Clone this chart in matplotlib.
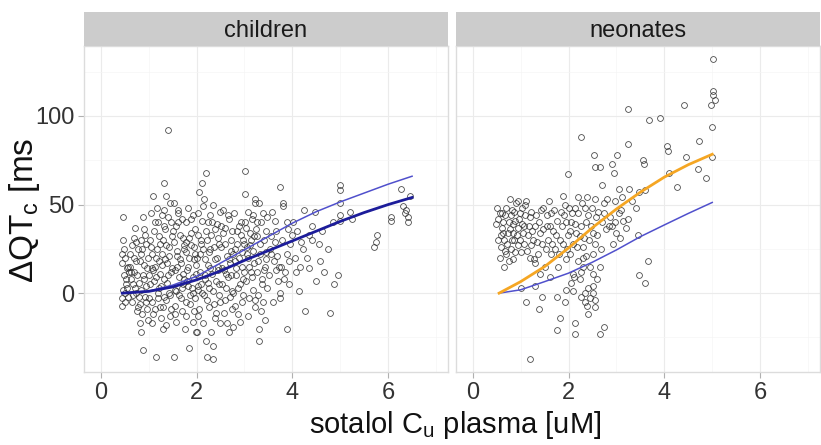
import matplotlib
matplotlib.use("Agg")
import matplotlib.pyplot as plt
from matplotlib.ticker import MultipleLocator

# ------------------------------------------
# Fonts
# ------------------------------------------

plt.rcParams["font.family"] = ["Liberation Sans", "DejaVu Sans"]
plt.rcParams["mathtext.fontset"] = "custom"
plt.rcParams["mathtext.rm"] = "Liberation Sans"

# ------------------------------------------
# Data
# ------------------------------------------

children_pts = [
    (0.47, 43), (0.45, 22), (0.5, 20), (0.44, 17), (0.55, 14), (0.48, 10), (0.52, 5), (0.46, 2),
    (0.5, 0), (0.44, -3), (0.45, -7), (0.57, 15), (0.53, 8), (0.58, 12), (0.56, -2), (0.49, 25),
    (0.72, 37), (0.65, 27), (0.7, 20), (0.62, 15), (0.75, 10), (0.68, 5), (0.73, 0), (0.66, -5),
    (0.78, -8), (0.77, 25), (0.64, 12), (0.71, 3), (0.79, -2), (0.69, 31), (0.74, 18),
    (0.89, 43), (0.84, 30), (0.95, 28), (0.87, 25), (0.82, 18), (0.97, 14), (0.9, 8), (0.85, 2),
    (0.93, -2), (0.81, -6), (0.96, -9), (0.82, -17), (0.85, -22), (0.89, -32), (0.92, 33),
    (0.99, 20), (0.88, 10), (0.94, -5),
    (1.09, 55), (1.05, 45), (1.2, 40), (1.12, 35), (1.02, 30), (1.18, 25), (1.07, 22), (1.22, 18),
    (1.1, 13), (1.15, 9), (1.03, 5), (1.19, 0), (1.06, -5), (1.14, -9), (1.09, -12), (1.16, -36),
    (1.24, 28), (1.13, 15), (1.21, 3), (1.01, -3), (1.17, 48), (1.23, -8),
    (1.41, 92), (1.32, 62), (1.37, 55), (1.44, 51), (1.28, 44), (1.47, 40), (1.35, 36), (1.3, 30),
    (1.42, 26), (1.27, 22), (1.39, 17), (1.46, 12), (1.33, 8), (1.26, 4), (1.43, 0), (1.36, -4),
    (1.29, -8), (1.44, -13), (1.37, -18), (1.3, -20), (1.48, 32), (1.34, 19), (1.4, 10),
    (1.45, -1), (1.31, 47),
    (1.53, 51), (1.62, 47), (1.7, 42), (1.57, 38), (1.66, 33), (1.52, 29), (1.73, 25), (1.6, 21),
    (1.68, 17), (1.55, 13), (1.64, 9), (1.71, 5), (1.58, 1), (1.67, -3), (1.54, -7), (1.53, -36),
    (1.61, 45), (1.74, 27), (1.59, 15), (1.69, 3), (1.72, 11), (1.56, -12),
    (1.82, 48), (1.92, 44), (1.78, 40), (1.96, 36), (1.85, 31), (1.89, 27), (1.77, 23),
    (1.94, 19), (1.83, 15), (1.98, 11), (1.8, 7), (1.91, 3), (1.86, -1), (1.79, -5), (1.95, -10),
    (1.92, -16), (1.76, -20), (1.85, -31), (1.88, 34), (1.97, 22), (1.81, 13), (1.93, 0),
    (1.99, -22),
    (2.11, 62), (2.06, 57), (2.16, 53), (2.03, 45), (2.2, 35), (2.09, 30), (2.14, 25), (2.01, 20),
    (2.23, 16), (2.07, 12), (2.18, 8), (2.04, 4), (2.12, 0), (2.21, -4), (2.05, -9), (2.14, -17),
    (2.0, -22), (2.21, -36), (2.1, 28), (2.17, 10), (2.02, 2), (2.24, 40), (2.13, 49), (2.2, 68),
    (2.35, 50), (2.28, 44), (2.42, 39), (2.31, 33), (2.46, 28), (2.27, 23), (2.38, 19),
    (2.44, 15), (2.33, 11), (2.4, 7), (2.26, 3), (2.47, -1), (2.36, -6), (2.49, -17), (2.31, -22),
    (2.35, -30), (2.34, -37), (2.39, 36), (2.29, 25), (2.45, 13), (2.41, -11), (2.48, 46),
    (2.55, 47), (2.68, 42), (2.6, 37), (2.72, 30), (2.52, 26), (2.64, 21), (2.7, 17), (2.57, 13),
    (2.66, 9), (2.53, 5), (2.73, 1), (2.59, -4), (2.63, -17), (2.67, -22), (2.56, 34),
    (2.71, 24), (2.62, 11), (2.74, -9),
    (2.78, 45), (2.92, 40), (2.85, 35), (2.97, 30), (2.8, 25), (2.89, 20), (2.95, 15), (2.83, 10),
    (2.91, 5), (2.77, 0), (2.94, -5), (2.86, -12), (2.77, -19), (2.88, 38), (2.99, 28),
    (2.81, 18), (2.96, 8),
    (3.01, 69), (3.01, 56), (3.22, 53), (3.08, 46), (3.15, 42), (3.04, 37), (3.19, 32),
    (3.11, 27), (3.06, 22), (3.2, 17), (3.13, 12), (3.03, 7), (3.17, 2), (3.09, -3), (3.23, -8),
    (3.14, 30), (3.07, 20), (3.22, 51), (3.18, 44),
    (3.3, 51), (3.38, 45), (3.27, 40), (3.44, 35), (3.33, 28), (3.46, 23), (3.29, 18),
    (3.41, 13), (3.36, 8), (3.48, 3), (3.3, -20), (3.3, -27), (3.39, -5), (3.27, 32),
    (3.43, 15), (3.35, -10),
    (3.58, 46), (3.66, 35), (3.53, 25), (3.61, 18), (3.66, 13), (3.71, 7), (3.74, 0),
    (3.55, 22), (3.74, -3), (3.63, 29),
    (3.74, 60), (3.81, 51), (3.81, 49), (3.88, 40), (3.91, 36), (4.0, 33), (3.88, 22),
    (3.77, 15), (3.85, 12), (3.88, -20), (3.96, 28), (3.92, 5),
    (4.25, 47), (4.48, 46), (4.1, 35), (4.35, 33), (4.42, 30), (4.22, 25), (4.16, 15),
    (4.35, 14), (4.5, 7), (4.13, 1), (4.26, -10), (4.05, 20),
    (4.74, 25), (4.57, 18), (4.95, 10), (4.87, 5), (4.79, -11), (4.85, 40), (4.62, 35),
    (5.0, 61), (5.0, 58), (5.0, 51), (5.21, 46), (5.0, 44), (5.0, 41), (5.25, 42),
    (5.77, 33), (5.7, 26), (5.74, 29),
    (6.26, 59), (6.46, 55), (6.32, 49), (6.38, 47), (6.35, 45), (6.42, 43), (6.05, 43),
    (6.05, 41), (6.42, 40),
    # denser middle of the cloud
    (0.47, 30), (0.5, -5), (0.55, 3), (0.6, 22), (0.63, 8), (0.67, -1), (0.7, 12), (0.74, 29),
    (0.76, -10), (0.8, 6), (0.83, 22), (0.86, -12), (0.9, 16), (0.91, 36), (0.94, 4),
    (0.98, -15), (1.0, 10), (1.04, 26), (1.06, 14), (1.08, -17), (1.11, 7), (1.13, 40),
    (1.16, 20), (1.19, -3), (1.21, 32), (1.23, 11), (1.26, -14), (1.28, 16), (1.31, 38),
    (1.33, -2), (1.36, 27), (1.38, 6), (1.41, 43), (1.43, 21), (1.46, -9), (1.49, 14),
    (1.51, 35), (1.54, 2), (1.57, -16), (1.59, 24), (1.62, 40), (1.64, -1), (1.66, 19),
    (1.69, -10), (1.71, 31), (1.74, 8), (1.77, -13), (1.79, 29), (1.82, 4), (1.84, 20),
    (1.87, -6), (1.89, 42), (1.92, 9), (1.94, 26), (1.97, -3), (1.99, 16), (2.02, 33),
    (2.04, -13), (2.07, 22), (2.09, 5), (2.12, 41), (2.15, -1), (2.17, 19), (2.19, -27),
    (2.22, 30), (2.24, 6), (2.27, -8), (2.29, 14), (2.32, 40), (2.34, 1), (2.37, 26),
    (2.39, -14), (2.42, 20), (2.44, 31), (2.47, 5), (2.49, -5), (2.52, 38), (2.54, 14),
    (2.57, -11), (2.59, 28), (2.62, 3), (2.65, 44), (2.67, 19), (2.69, -2), (2.72, 10),
    (2.75, 35), (2.77, 22), (2.8, -7), (2.82, 14), (2.85, 28), (2.87, 3), (2.9, -16),
    (2.92, 33), (2.95, 23), (2.97, -1), (3.0, 12), (3.02, 40), (3.05, 26), (3.08, -13),
    (3.1, 15), (3.12, 34), (3.16, 9), (3.18, 24), (3.21, -4), (3.24, 36), (3.26, 12),
    (3.28, -1), (3.32, 22), (3.34, 40), (3.37, 5), (3.4, 30), (3.42, -15), (3.45, 19),
    (3.47, 43), (3.52, 10), (3.56, 32), (3.6, -5), (3.64, 41), (3.68, 21), (3.72, 15),
    (3.78, 30), (3.83, 8), (3.94, 18), (4.02, 40), (4.08, 12), (4.18, 29), (4.3, 20),
    (4.4, 38), (4.55, 28), (4.66, 12),
]

neonates_pts = [
    (0.56, 45), (0.49, 39), (0.77, 53), (0.91, 51), (0.98, 45), (0.63, 34), (0.59, 26),
    (0.66, 15), (0.7, 22), (0.84, 34), (1.05, 34), (1.19, 43), (1.29, 38), (1.26, 30),
    (1.36, 22), (1.47, 48), (1.64, 45), (1.54, 38), (1.75, 41), (1.82, 30), (1.64, 22),
    (1.5, 15), (1.4, 11), (1.61, 9), (1.78, 15), (1.95, 19), (2.02, 22), (2.16, 34), (2.3, 26),
    (2.37, 21), (2.51, 34), (2.58, 43), (2.79, 36), (3.0, 34), (3.14, 41), (2.93, 28),
    (2.51, 22), (2.44, 15), (2.65, 15), (3.45, 33), (3.66, 18), (3.47, 10), (3.59, 6),
    (0.52, 42), (0.6, 37), (0.68, 44), (0.75, 40), (0.82, 47), (0.88, 41), (0.95, 37),
    (1.02, 48), (1.1, 44), (0.65, 30), (0.72, 28), (0.8, 25), (0.87, 30), (0.94, 27), (1.0, 23),
    (1.08, 38), (1.15, 33), (1.22, 27), (0.58, 33), (0.85, 19), (0.78, 36), (1.32, 44),
    (1.4, 34), (1.44, 28), (1.58, 30), (1.68, 35), (1.72, 25), (1.86, 38), (1.9, 44),
    (1.98, 33), (2.05, 40), (2.1, 28), (2.2, 45), (2.26, 38), (2.33, 31), (2.4, 44), (2.46, 38),
    (2.55, 28), (2.62, 46), (2.7, 40), (2.86, 43), (2.9, 38), (3.05, 45), (3.2, 37), (2.2, 18),
    (2.27, 12), (2.12, 9), (1.3, 17), (1.2, 20), (0.95, 52), (1.12, 52), (1.6, 52), (2.0, 48),
    (2.35, 48), (3.08, 31),
    (0.5, 48), (0.53, 30), (0.57, 20), (0.61, 45), (0.64, 40), (0.67, 24), (0.7, 48),
    (0.73, 34), (0.76, 18), (0.79, 44), (0.81, 30), (0.83, 39), (0.86, 46), (0.89, 23),
    (0.92, 33), (0.96, 42), (0.99, 30), (1.03, 39), (1.06, 28), (1.09, 50), (1.13, 24),
    (1.17, 38), (1.21, 46), (1.24, 35), (1.27, 19), (1.34, 29), (1.38, 40), (1.42, 47),
    (1.46, 36), (1.52, 25), (1.56, 44), (1.62, 38), (1.66, 28), (1.7, 47), (1.74, 33),
    (1.8, 22), (1.84, 46), (1.88, 28), (1.94, 40), (1.97, 25), (2.03, 35), (2.07, 45),
    (2.14, 39), (2.18, 26), (2.23, 32), (2.28, 51), (2.31, 20), (2.36, 40), (2.43, 30),
    (2.48, 48), (2.6, 33), (2.68, 25), (2.75, 45), (2.84, 38), (2.97, 40), (3.1, 47),
    (3.25, 42),
    (5.02, 132), (5.01, 114), (5.02, 112), (5.05, 109), (4.97, 106), (4.41, 106), (3.24, 104),
    (3.68, 98), (3.91, 99), (5.0, 94), (2.27, 88), (4.73, 86), (3.24, 84), (4.05, 83),
    (4.08, 80), (4.46, 77), (4.99, 77), (2.53, 78), (3.02, 78), (3.56, 75), (3.57, 73),
    (2.9, 73), (2.56, 71), (2.66, 71), (2.94, 68), (1.98, 67), (4.71, 70), (4.09, 68),
    (4.87, 65), (4.26, 60), (2.7, 61), (3.05, 59), (3.26, 59), (3.47, 57), (3.6, 58),
    (3.33, 52), (3.4, 48), (3.12, 54), (2.98, 52), (2.8, 53), (2.73, 51), (2.38, 54),
    (2.55, 53), (2.2, 54), (1.92, 50), (1.88, 55), (2.13, 48),
    (1.12, -5), (1.38, -9), (1.45, -2), (1.75, -2), (1.92, -5), (1.82, -14), (1.75, -21),
    (2.13, -17), (2.13, -23), (2.34, 0), (2.34, -5), (2.38, -7), (2.55, -4), (2.55, -8),
    (2.66, -23), (2.73, -19), (1.19, -37), (2.51, 4), (2.06, 6), (2.23, 8), (2.09, 1),
    (1.95, 2), (2.09, 11), (2.3, 15), (2.51, 11), (1.0, 3), (1.3, 4), (2.45, -3), (2.4, -12),
    (2.25, -2), (2.4, 3), (2.5, 0), (2.6, 8),
]

# model curves
children_fit_x = [0.45, 1.0, 1.5, 2.0, 2.5, 3.0, 3.5, 4.0, 4.5, 5.0, 5.5, 6.0, 6.5]
children_fit_y = [0, 1, 3.5, 7.5, 12.5, 18.5, 24, 29.5, 35, 40.5, 45.5, 50, 54]
children_ref_y = [0, 1.2, 4.5, 9.5, 17, 24.5, 32, 39.5, 46, 51.5, 56.5, 61.5, 66]

neonates_fit_x = [0.55, 1.0, 1.5, 2.0, 2.5, 3.0, 3.5, 4.0, 4.5, 5.0]
neonates_fit_y = [0, 6.5, 15, 25.5, 37, 47.5, 57, 65.5, 72.5, 78.4]
neonates_ref_y = [0, 1.9, 6.5, 11.3, 17.5, 24.4, 31.9, 38.5, 45, 51.2]

panels = ["children", "neonates"]

# ------------------------------------------
# Figure
# ------------------------------------------

W, H = 821, 445
fig = plt.figure(figsize=(W / 100, H / 100), dpi=100)

panel_left = [84, 456]
panel_w = 364
panel_top = 46
panel_bottom = 372
strip_top = 12

xlim = (-0.35, 7.25)
ylim = (-44.5, 139.5)


def setup_axes(ax, show_y):
    ax.set_xlim(*xlim)
    ax.set_ylim(*ylim)
    ax.xaxis.set_major_locator(MultipleLocator(2))
    ax.xaxis.set_minor_locator(MultipleLocator(1))
    ax.yaxis.set_major_locator(MultipleLocator(50))
    ax.yaxis.set_minor_locator(MultipleLocator(25))
    ax.grid(True, which="major", color="#ebebeb", lw=0.8)
    ax.grid(True, which="minor", color="#f5f5f5", lw=0.5)
    ax.set_axisbelow(True)
    for s in ax.spines.values():
        s.set_color("#dcdcdc")
        s.set_linewidth(1.0)
    ax.tick_params(which="minor", length=0)
    ax.tick_params(which="major", length=4, width=0.8, color="#b0b0b0",
                   labelsize=17, labelcolor="#333333", pad=3)
    if not show_y:
        ax.tick_params(axis="y", which="both", length=0, labelleft=False)


axes = []
for i, name in enumerate(panels):
    ax = fig.add_axes([panel_left[i] / W, 1 - panel_bottom / H,
                       panel_w / W, (panel_bottom - panel_top) / H])
    setup_axes(ax, show_y=(i == 0))
    axes.append(ax)

    # strip
    sax = fig.add_axes([panel_left[i] / W, 1 - panel_top / H,
                        panel_w / W, (panel_top - strip_top) / H])
    sax.set_facecolor("#cccccc")
    sax.set_xticks([])
    sax.set_yticks([])
    for s in sax.spines.values():
        s.set_visible(False)
    sax.text(0.5, 0.45, name, ha="center", va="center", fontsize=17,
             color="#1a1a1a", transform=sax.transAxes)

# ------------------------------------------
# Scatter points
# ------------------------------------------

cx = [p[0] for p in children_pts]
cy = [p[1] for p in children_pts]
nx = [p[0] for p in neonates_pts]
ny = [p[1] for p in neonates_pts]

for ax, xs, ys in [(axes[0], cx, cy), (axes[1], nx, ny)]:
    ax.plot(xs, ys, "o", ms=4.2, mfc="none", mec="#2e2e2e", mew=0.6, alpha=0.85)

# ------------------------------------------
# Curves
# ------------------------------------------

axes[0].plot(children_fit_x, children_ref_y, color="#5050cc", lw=1.1)
axes[0].plot(children_fit_x, children_fit_y, color="#1c1c9a", lw=2.0)

axes[1].plot(neonates_fit_x, neonates_ref_y, color="#5050cc", lw=1.1)
axes[1].plot(neonates_fit_x, neonates_fit_y, color="#f5a623", lw=2.0)

# ------------------------------------------
# Axis titles
# ------------------------------------------

fig.text(455 / W, 1 - 425 / H, r"sotalol C$_\mathregular{u}$ plasma [uM]",
         ha="center", va="center", fontsize=21, color="#111111")

fig.text(25 / W, 1 - 210 / H, r"ΔQT$_\mathregular{c}$ [ms",
         ha="center", va="center", rotation=90, fontsize=24, color="#111111")

fig.savefig("out.png", dpi=100)
